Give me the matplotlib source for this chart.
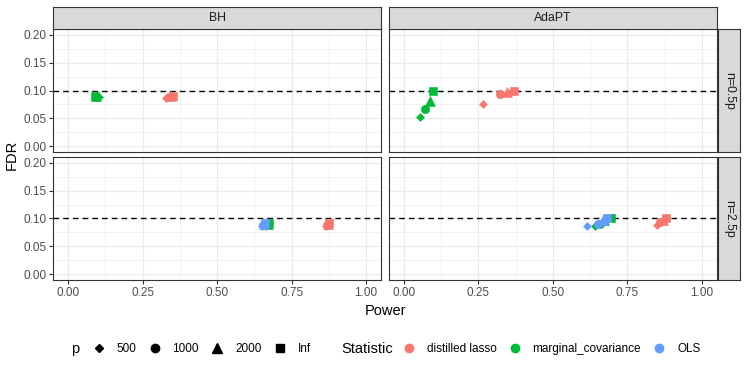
#!/usr/bin/env python3
"""
FDR vs power for BH and AdaPT, faceted by sample size ratio
"""

import matplotlib.pyplot as plt
from matplotlib.lines import Line2D

plt.rcParams['font.family'] = ['Liberation Sans', 'DejaVu Sans']

# levels
p_levels = ['500', '1000', '2000', 'Inf']
statistics = ['distilled lasso', 'marginal_covariance', 'OLS']
methods = ['BH', 'AdaPT']
n_ratios = ['n=0.5p', 'n=2.5p']
target_fdr = 0.1

# values, ordered as p_levels
bh_small_lasso_power = [0.329, 0.338, 0.345, 0.353]
bh_small_lasso_fdr = [0.086, 0.088, 0.090, 0.091]
bh_small_marg_power = [0.105, 0.095, 0.092, 0.090]
bh_small_marg_fdr = [0.088, 0.089, 0.090, 0.091]

adapt_small_lasso_power = [0.267, 0.322, 0.345, 0.370]
adapt_small_lasso_fdr = [0.076, 0.094, 0.098, 0.100]
adapt_small_marg_power = [0.055, 0.072, 0.086, 0.097]
adapt_small_marg_fdr = [0.052, 0.067, 0.082, 0.100]

bh_large_lasso_power = [0.864, 0.868, 0.872, 0.876]
bh_large_lasso_fdr = [0.087, 0.089, 0.090, 0.092]
bh_large_marg_power = [0.664, 0.668, 0.671, 0.675]
bh_large_marg_fdr = [0.087, 0.089, 0.090, 0.092]
bh_large_ols_power = [0.650, 0.654, 0.657, 0.660]
bh_large_ols_fdr = [0.087, 0.089, 0.090, 0.092]

adapt_large_lasso_power = [0.850, 0.860, 0.870, 0.880]
adapt_large_lasso_fdr = [0.088, 0.093, 0.097, 0.100]
adapt_large_marg_power = [0.643, 0.657, 0.672, 0.695]
adapt_large_marg_fdr = [0.086, 0.091, 0.097, 0.100]
adapt_large_ols_power = [0.615, 0.652, 0.668, 0.682]
adapt_large_ols_fdr = [0.0865, 0.091, 0.097, 0.100]

# panel table: (row, col) -> list of (statistic, power, fdr)
panels = {
    (0, 0): [('distilled lasso', bh_small_lasso_power, bh_small_lasso_fdr),
             ('marginal_covariance', bh_small_marg_power, bh_small_marg_fdr)],
    (0, 1): [('distilled lasso', adapt_small_lasso_power, adapt_small_lasso_fdr),
             ('marginal_covariance', adapt_small_marg_power, adapt_small_marg_fdr)],
    (1, 0): [('distilled lasso', bh_large_lasso_power, bh_large_lasso_fdr),
             ('marginal_covariance', bh_large_marg_power, bh_large_marg_fdr),
             ('OLS', bh_large_ols_power, bh_large_ols_fdr)],
    (1, 1): [('distilled lasso', adapt_large_lasso_power, adapt_large_lasso_fdr),
             ('marginal_covariance', adapt_large_marg_power, adapt_large_marg_fdr),
             ('OLS', adapt_large_ols_power, adapt_large_ols_fdr)],
}

colors = {'distilled lasso': '#F8766D', 'marginal_covariance': '#00BA38', 'OLS': '#619CFF'}
markers = {'500': ('D', 4.5), '1000': ('o', 6.0), '2000': ('^', 7.0), 'Inf': ('s', 6.2)}

W, H = 747, 374
fig = plt.figure(figsize=(W / 100, H / 100), dpi=100)


def box(x0, y0, x1, y1):
    return [x0 / W, 1 - y1 / H, (x1 - x0) / W, (y1 - y0) / H]


col_x = [(53.3, 381.0), (389.0, 716.7)]
row_y = [(29.0, 152.0), (157.0, 280.0)]
border = '#333333'

for (r, c), series in panels.items():
    ax = fig.add_axes(box(col_x[c][0], row_y[r][0], col_x[c][1], row_y[r][1]))
    ax.set_xlim(-0.05, 1.05)
    ax.set_ylim(-0.01, 0.21)
    ax.set_xticks([0, 0.25, 0.5, 0.75, 1.0])
    ax.set_xticks([0.125, 0.375, 0.625, 0.875], minor=True)
    ax.set_yticks([0, 0.05, 0.1, 0.15, 0.2])
    ax.set_yticks([0.025, 0.075, 0.125, 0.175], minor=True)
    ax.grid(which='major', color='#EBEBEB', linewidth=0.9)
    ax.grid(which='minor', color='#EBEBEB', linewidth=0.45)
    ax.set_axisbelow(True)
    for s in ax.spines.values():
        s.set_color(border)
        s.set_linewidth(0.8)
    ax.tick_params(which='minor', length=0)
    ax.tick_params(which='major', length=2.75, width=0.8, color=border,
                   labelsize=8.5, labelcolor='#4D4D4D', pad=2)
    ax.tick_params(axis='x', bottom=(r == 1), labelbottom=(r == 1))
    ax.tick_params(axis='y', left=(c == 0), labelleft=(c == 0))
    ax.xaxis.set_major_formatter(lambda v, pos: f'{v:.2f}')
    ax.yaxis.set_major_formatter(lambda v, pos: f'{v:.2f}')

    ax.axhline(target_fdr, color='black', linewidth=1.0, linestyle=(0, (4, 3)), zorder=2)

    for stat, power, fdr in series:
        for i, p in enumerate(p_levels):
            m, ms = markers[p]
            ax.plot(power[i], fdr[i], linestyle='none', marker=m, markersize=ms,
                    color=colors[stat], markeredgewidth=0.4, zorder=3)

# column strips
for c, name in enumerate(methods):
    sax = fig.add_axes(box(col_x[c][0], 7.0, col_x[c][1], 29.0))
    sax.set_facecolor('#D9D9D9')
    sax.set_xticks([])
    sax.set_yticks([])
    for s in sax.spines.values():
        s.set_color(border)
        s.set_linewidth(0.8)
    sax.text(0.5, 0.5, name, ha='center', va='center', fontsize=8.8, color='#1A1A1A')

# row strips
for r, name in enumerate(n_ratios):
    sax = fig.add_axes(box(718.0, row_y[r][0], 740.0, row_y[r][1]))
    sax.set_facecolor('#D9D9D9')
    sax.set_xticks([])
    sax.set_yticks([])
    for s in sax.spines.values():
        s.set_color(border)
        s.set_linewidth(0.8)
    sax.text(0.5, 0.5, name, ha='center', va='center', rotation=-90,
             fontsize=8.8, color='#1A1A1A')

# axis titles
fig.text(385 / W, 1 - 311 / H, 'Power', ha='center', va='center', fontsize=10.5)
fig.text(12 / W, 1 - 154.5 / H, 'FDR', ha='center', va='center', rotation=90, fontsize=10.5)

# legends
leg_y = 1 - 349 / H
leg_kw = dict(loc='center left', frameon=False, borderpad=0, borderaxespad=0,
              handlelength=1.6, handletextpad=0.7, columnspacing=0.75, fontsize=8.5)

p_handles = [Line2D([], [], linestyle='none', marker=markers[p][0],
                    markersize=markers[p][1], color='black') for p in p_levels]
fig.text(75 / W, leg_y, 'p', ha='center', va='center', fontsize=10.5)
fig.legend(p_handles, p_levels, ncol=4, bbox_to_anchor=(89.5 / W, leg_y), **leg_kw)

stat_handles = [Line2D([], [], linestyle='none', marker='o', markersize=6.0,
                       color=colors[s]) for s in statistics]
fig.text(341 / W, leg_y, 'Statistic', ha='left', va='center', fontsize=10.5)
fig.legend(stat_handles, statistics, ncol=3, bbox_to_anchor=(399.5 / W, leg_y), **leg_kw)

fig.savefig('out.png', dpi=100)
